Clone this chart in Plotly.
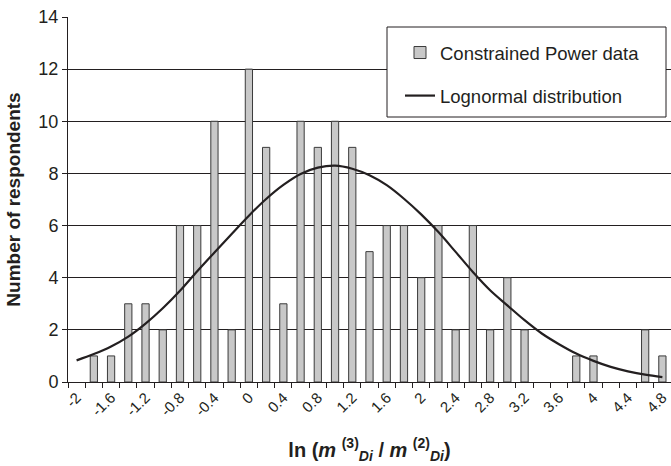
import plotly.graph_objects as go

categories = [-2.0, -1.8, -1.6, -1.4, -1.2, -1.0, -0.8, -0.6, -0.4, -0.2,
              0.0, 0.2, 0.4, 0.6, 0.8, 1.0, 1.2, 1.4, 1.6, 1.8,
              2.0, 2.2, 2.4, 2.6, 2.8, 3.0, 3.2, 3.4, 3.6, 3.8,
              4.0, 4.2, 4.4, 4.6, 4.8]
respondents = [0, 1, 1, 3, 3, 2, 6, 6, 10, 2,
               12, 9, 3, 10, 9, 10, 9, 5, 6, 6,
               4, 6, 2, 6, 2, 4, 2, 0, 0, 1,
               1, 0, 0, 2, 1]
lognormal = [0.83, 1.07, 1.36, 1.74, 2.24, 2.83, 3.50, 4.25, 4.97, 5.68,
             6.38, 7.02, 7.56, 7.98, 8.22, 8.30, 8.18, 7.93, 7.55, 7.03,
             6.43, 5.75, 4.99, 4.22, 3.52, 2.94, 2.37, 1.86, 1.45, 1.09,
             0.81, 0.58, 0.41, 0.28, 0.19]
tick_labels = ["-2", "", "-1.6", "", "-1.2", "", "-0.8", "", "-0.4", "",
               "0", "", "0.4", "", "0.8", "", "1.2", "", "1.6", "",
               "2", "", "2.4", "", "2.8", "", "3.2", "", "3.6", "",
               "4", "", "4.4", "", "4.8"]

cat_keys = [f"{c:.1f}" for c in categories]
bar_values = [v if v else None for v in respondents]

FONT = "Liberation Sans, Arial, sans-serif"
INK = "#231f20"

W, H = 671, 466
ML, MR, MT, MB = 68, 0, 17, 84
PW, PH = W - ML - MR, H - MT - MB

def px_x(x):
    return (x - ML) / PW

def px_y(y):
    return (H - MB - y) / PH

fig = go.Figure()
fig.add_trace(go.Bar(
    x=cat_keys, y=bar_values, name="Constrained Power data",
    width=0.42,
    marker=dict(color="#c8c8c8", line=dict(color="#3a3a3a", width=1)),
    legendgroup="a",
))
fig.add_trace(go.Scatter(
    x=cat_keys, y=lognormal, name="Lognormal distribution",
    mode="lines", line=dict(color=INK, width=2.2, shape="spline", smoothing=1),
    legendgroup="b",
))

# legend frame
fig.add_shape(type="rect", xref="paper", yref="paper",
              x0=px_x(387), x1=px_x(666), y0=px_y(117), y1=px_y(27),
              line=dict(color=INK, width=1), fillcolor="white", layer="above")

fig.update_layout(
    width=W, height=H,
    margin=dict(l=ML, r=MR, t=MT, b=MB),
    plot_bgcolor="white", paper_bgcolor="white",
    font=dict(family=FONT, color=INK, size=14),
    showlegend=True,
    legend=dict(
        x=px_x(400), y=px_y(34), xanchor="left", yanchor="top",
        bgcolor="rgba(0,0,0,0)", borderwidth=0,
        font=dict(size=18.5, family=FONT, color=INK),
        tracegroupgap=16, traceorder="grouped",
        itemwidth=30,
    ),
)

fig.update_xaxes(
    type="category",
    tickmode="array", tickvals=cat_keys, ticktext=tick_labels,
    tickson="boundaries", ticks="outside", ticklen=5, tickcolor=INK,
    tickangle=-45, tickfont=dict(size=15, family=FONT, color=INK),
    showline=True, linecolor=INK, linewidth=1,
    showgrid=False, zeroline=False,
    title=dict(
        text="<b>ln (<i>m</i> <sup>(3)</sup><sub><i>Di</i></sub> / <i>m</i> <sup>(2)</sup><sub><i>Di</i></sub>)</b>",
        font=dict(size=20, family=FONT, color=INK), standoff=24,
    ),
)
fig.update_yaxes(
    range=[0, 14], dtick=2, tick0=0,
    ticks="outside", ticklen=5, tickcolor=INK,
    tickfont=dict(size=18, family=FONT, color=INK),
    showline=True, linecolor=INK, linewidth=1,
    showgrid=True, gridcolor=INK, gridwidth=1,
    zeroline=False,
    title=dict(text="<b>Number of respondents</b>",
               font=dict(size=19, family=FONT, color=INK), standoff=12),
)

fig.write_html("out.html")
